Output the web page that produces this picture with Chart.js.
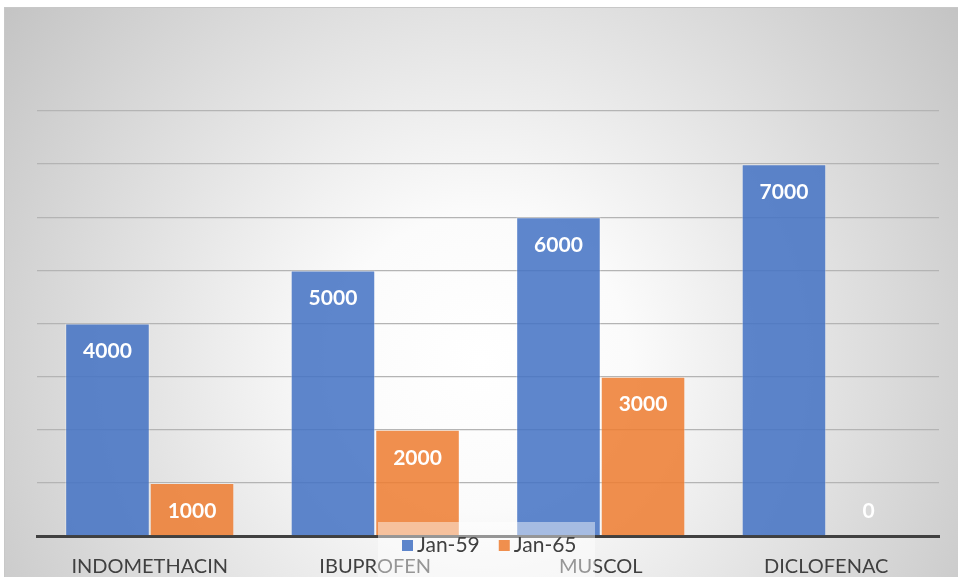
<!DOCTYPE html>
<html>
<head>
<meta charset="utf-8">
<script src="https://cdn.jsdelivr.net/npm/chart.js@4"></script>
<style>
  html, body { margin: 0; padding: 0; background: #fff; }
  #wrap { position: absolute; left: 4px; top: 7px; width: 954px; height: 570px;
          border-top: 1px solid #c8c8c8; border-left: 1px solid #c8c8c8; box-sizing: border-box; }
  canvas { display: block; }
</style>
</head>
<body>
<div id="wrap"><canvas id="chart"></canvas></div>
<script>
// 數據
const categories = ['INDOMETHACIN', 'IBUPROFEN', 'MUSCOL', 'DICLOFENAC'];
const seriesNames = ['Jan-59', 'Jan-65'];
const jan59 = [4000, 5000, 6000, 7000];
const jan65 = [1000, 2000, 3000, 0];
const yTicks = [0, 1000, 2000, 3000, 4000, 5000, 6000, 7000, 8000];

const blue = 'rgba(68, 114, 196, 0.86)';
const orange = 'rgba(237, 125, 49, 0.86)';
const fontFam = 'Lato, "Open Sans", sans-serif';

// 背景漸層
const bgPlugin = {
    id: 'bg',
    beforeDraw(chart) {
        const c = chart.ctx, w = chart.width, h = chart.height;
        const g = c.createRadialGradient(w * 0.5, h * 0.62, 0, w * 0.5, h * 0.62, w * 0.62);
        g.addColorStop(0, '#ffffff');
        g.addColorStop(0.25, '#fbfbfb');
        g.addColorStop(1, '#c4c4c4');
        c.save();
        c.fillStyle = g;
        c.fillRect(0, 0, w, h);
        c.restore();
    }
};

// 數值標籤
const labelPlugin = {
    id: 'vals',
    afterDatasetsDraw(chart) {
        const c = chart.ctx;
        c.save();
        c.fillStyle = '#ffffff';
        c.font = 'bold 21px ' + fontFam;
        c.textAlign = 'center';
        c.textBaseline = 'middle';
        chart.data.datasets.forEach((ds, i) => {
            chart.getDatasetMeta(i).data.forEach((bar, j) => {
                const v = ds.data[j];
                const y = v > 0 ? bar.y + 28 : bar.y - 25;
                c.fillText(String(v), bar.x, y);
            });
        });
        c.restore();
    }
};

// 圖例 (壓在 X 軸上)
const legendPlugin = {
    id: 'legendBox',
    afterDraw(chart) {
        const c = chart.ctx;
        const left = 373;
        const top = 514;
        c.save();
        c.fillStyle = 'rgba(255,255,255,0.45)';
        c.fillRect(left, top, 217, 60);
        c.font = '21px ' + fontFam;
        c.textBaseline = 'middle';
        const items = chart.data.datasets.map(ds => ({ text: ds.label, color: ds.backgroundColor }));
        let x = left + 24;
        const y = top + 23;
        items.forEach(it => {
            c.fillStyle = it.color;
            c.fillRect(x, y - 5, 11, 11);
            c.fillStyle = '#404040';
            c.fillText(it.text, x + 15, y);
            x += 15 + c.measureText(it.text).width + 19;
        });
        c.restore();
    }
};

new Chart(document.getElementById('chart'), {
    type: 'bar',
    data: {
        labels: categories,
        datasets: [
            { label: seriesNames[0], data: jan59, backgroundColor: blue,
              borderColor: 'rgba(255,255,255,0.35)', borderWidth: 1 },
            { label: seriesNames[1], data: jan65, backgroundColor: orange,
              borderColor: 'rgba(255,255,255,0.35)', borderWidth: 1 }
        ]
    },
    options: {
        responsive: true,
        maintainAspectRatio: false,
        animation: false,
        layout: { padding: { left: 32, right: 19, top: 103, bottom: -13 } },
        datasets: { bar: { categoryPercentage: 0.75, barPercentage: 1 } },
        plugins: {
            legend: { display: false },
            tooltip: { enabled: false }
        },
        scales: {
            x: {
                grid: { display: false },
                border: { color: '#404040', width: 3 },
                ticks: { color: '#404040', font: { family: fontFam, size: 20 }, padding: 11 }
            },
            y: {
                min: 0,
                max: 8000,
                afterBuildTicks(axis) { axis.ticks = yTicks.map(v => ({ value: v })); },
                grid: { color: '#b4b4b4', lineWidth: 1.3, drawTicks: false },
                border: { display: false },
                ticks: { display: false }
            }
        }
    },
    plugins: [bgPlugin, labelPlugin, legendPlugin]
});
</script>
</body>
</html>
